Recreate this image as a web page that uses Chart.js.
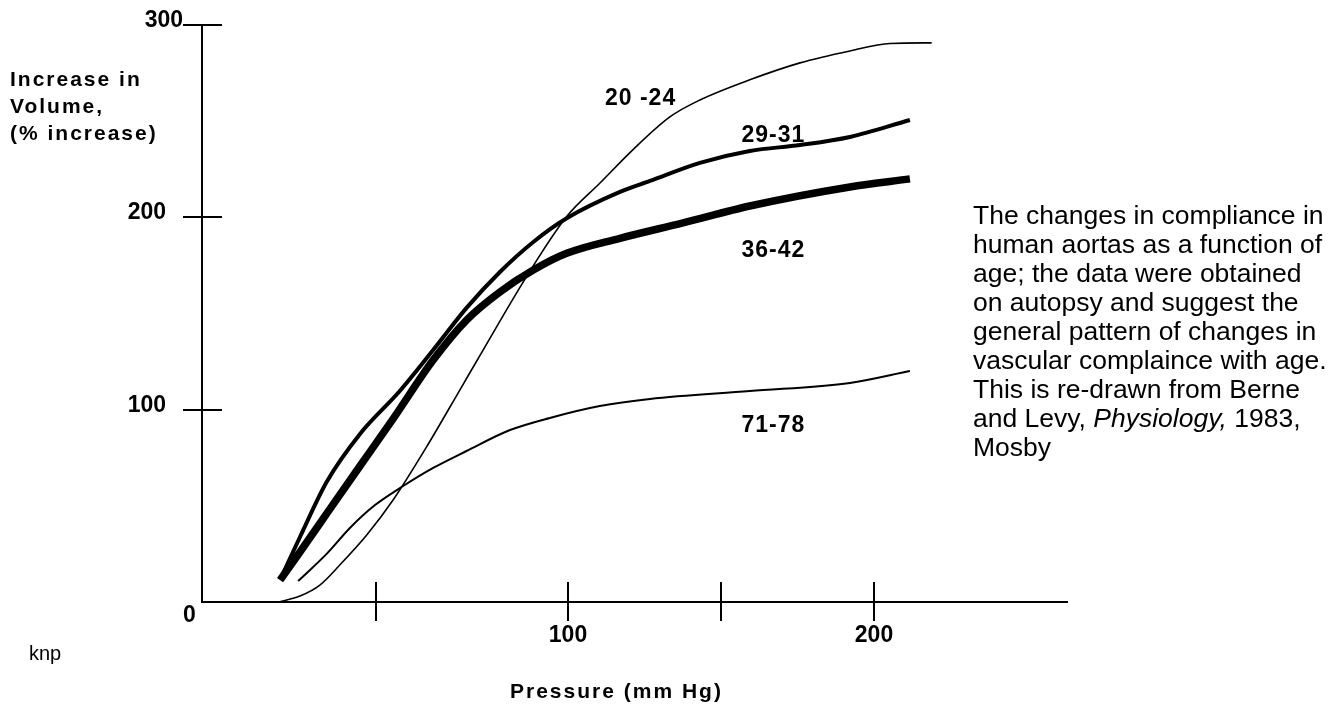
<!DOCTYPE html>
<html>
<head>
<meta charset="utf-8">
<script src="https://cdn.jsdelivr.net/npm/chart.js@4"></script>
<style>
html,body{margin:0;padding:0;background:#fff;}
#wrap{width:1338px;height:704px;position:relative;}
</style>
</head>
<body>
<div id="wrap"><canvas id="c" width="1338" height="704"></canvas></div>
<script>
// ---- data (pressure in mm Hg, volume increase in %) ----
const seriesNames = ['20 -24', '29-31', '36-42', '71-78'];

const pressure2024 = [5.7, 12.6, 19.1, 25.6, 34.4, 43.0, 54.0, 64.8, 72.4, 86.6, 99.7, 110.5, 121.3, 133.4, 143.2, 159.5, 175.9, 192.2, 205.3, 218.9];
const volume2024   = [0.0, 3.1, 8.8, 19.2, 34.8, 53.0, 80.8, 110.2, 131.0, 169.2, 200.4, 217.7, 235.1, 252.2, 261.0, 271.5, 280.3, 286.5, 290.4, 290.7];

const pressure2931 = [6.7, 12.6, 21.3, 32.2, 45.2, 56.1, 67.0, 77.9, 88.8, 99.7, 117.1, 126.9, 143.2, 159.5, 175.9, 192.2, 211.8];
const volume2931   = [13.5, 33.8, 62.4, 87.4, 109.7, 131.0, 152.9, 171.6, 187.2, 199.5, 213.2, 218.9, 228.3, 234.5, 237.6, 241.8, 250.6];

const pressure3642 = [6.1, 12.6, 22.4, 32.2, 43.0, 56.1, 67.0, 77.9, 88.8, 99.7, 117.1, 137.7, 159.5, 192.2, 211.8];
const volume3642   = [11.4, 26.0, 48.4, 70.7, 95.2, 125.8, 146.6, 161.2, 172.6, 181.3, 189.1, 197.1, 205.9, 215.8, 220.0];

const pressure7178 = [12.0, 21.3, 28.9, 37.1, 46.3, 56.1, 67.0, 81.2, 94.2, 110.5, 126.9, 159.5, 192.2, 211.8];
const volume7178   = [10.9, 25.0, 38.5, 50.4, 60.3, 69.7, 78.5, 89.4, 95.7, 101.9, 105.6, 109.7, 113.9, 120.1];

const xTickValues = [37.3, 100, 150, 200];
const xTickLabels = ['', '100', '', '200'];
const yTickValues = [0, 100, 200, 300];
const yTickLabels = ['0', '100', '200', '300'];

const xAxisTitle = 'Pressure (mm Hg)';
const yAxisTitle = ['Increase in', 'Volume,', '(% increase)'];
const creditText = 'knp';
const captionLines = [
  'The changes in compliance in',
  'human aortas as a function of',
  'age; the data were obtained',
  'on autopsy and suggest the',
  'general pattern of changes in',
  'vascular complaince with age.',
  'This is re-drawn from Berne',
  ['and Levy, ', 'Physiology,', ' 1983,'],
  'Mosby'
];

// ---- build ----
const FONT = '"Liberation Sans", Arial, Helvetica, sans-serif';
const zip = (xs, ys) => xs.map((v, i) => ({x: v, y: ys[i]}));
const seriesData = [
  zip(pressure2024, volume2024),
  zip(pressure2931, volume2931),
  zip(pressure3642, volume3642),
  zip(pressure7178, volume7178)
];
const seriesWidths = [1.6, 4, 7.5, 2];
// label anchor in data units (left edge, baseline)
const labelAnchors = [[112.2, 258.5], [156.8, 239.2], [156.8, 179.6], [156.8, 88.6]];

function setSpacing(ctx, px) { if ('letterSpacing' in ctx) ctx.letterSpacing = px + 'px'; }

const annotate = {
  id: 'annotate',
  afterDraw(chart) {
    const ctx = chart.ctx;
    const xs = chart.scales.x, ys = chart.scales.y;
    const ax = xs.left, ay = ys.bottom;
    ctx.save();
    ctx.fillStyle = '#000';
    ctx.strokeStyle = '#000';
    ctx.lineWidth = 2;
    ctx.lineCap = 'butt';

    // y ticks & labels
    ctx.font = 'bold 23px ' + FONT;
    ctx.textBaseline = 'alphabetic';
    setSpacing(ctx, 0);
    ys.ticks.forEach((t) => {
      const py = Math.round(ys.getPixelForValue(t.value));
      if (t.value === ys.min) {
        ctx.textAlign = 'center';
        ctx.fillText(t.label, ax - 12.5, ay + 20);
        return;
      }
      ctx.beginPath(); ctx.moveTo(ax - 19, py); ctx.lineTo(ax + 20, py); ctx.stroke();
      ctx.textAlign = 'right';
      const lx = (t.value === ys.max) ? ax - 19 : ax - 36;
      ctx.fillText(t.label, lx, py + 2);
    });

    // x ticks & labels
    xs.ticks.forEach((t) => {
      const px = Math.round(xs.getPixelForValue(t.value));
      ctx.beginPath(); ctx.moveTo(px, ay - 20); ctx.lineTo(px, ay + 19); ctx.stroke();
      if (t.label) {
        ctx.textAlign = 'center';
        ctx.fillText(t.label, px, ay + 40);
      }
    });

    // series labels
    ctx.textAlign = 'left';
    setSpacing(ctx, 1);
    seriesNames.forEach((name, i) => {
      const a = labelAnchors[i];
      ctx.fillText(name, xs.getPixelForValue(a[0]), ys.getPixelForValue(a[1]));
    });

    // axis titles
    ctx.font = 'bold 21px ' + FONT;
    setSpacing(ctx, 2);
    yAxisTitle.forEach((line, i) => ctx.fillText(line, 10, 86 + i * 27));
    ctx.fillText(xAxisTitle, 510, 698);

    // credit
    setSpacing(ctx, 0);
    ctx.font = '20px ' + FONT;
    ctx.fillText(creditText, 29, 660);

    // caption
    const capX = 973, capY = 224, pitch = 29;
    captionLines.forEach((line, i) => {
      const by = capY + i * pitch;
      if (Array.isArray(line)) {
        let cx = capX;
        line.forEach((seg, j) => {
          ctx.font = (j === 1 ? 'italic ' : '') + '26.5px ' + FONT;
          ctx.fillText(seg, cx, by);
          cx += ctx.measureText(seg).width;
        });
      } else {
        ctx.font = '26.5px ' + FONT;
        ctx.fillText(line, capX, by);
      }
    });
    ctx.restore();
  }
};

new Chart(document.getElementById('c'), {
  type: 'line',
  data: {
    datasets: seriesData.map((d, i) => ({
      label: seriesNames[i],
      data: d,
      borderColor: '#000',
      backgroundColor: '#000',
      borderWidth: seriesWidths[i],
      pointRadius: 0,
      pointHoverRadius: 0,
      fill: false,
      cubicInterpolationMode: 'monotone',
      borderCapStyle: 'butt',
      clip: false
    }))
  },
  options: {
    responsive: false,
    devicePixelRatio: 1,
    animation: false,
    events: [],
    layout: { padding: { left: 202, top: 25, right: 271, bottom: 102 } },
    plugins: { legend: { display: false }, tooltip: { enabled: false }, title: { display: false } },
    scales: {
      x: {
        type: 'linear',
        min: -19.4,
        max: 263.1,
        afterBuildTicks: (s) => { s.ticks = xTickValues.map(v => ({ value: v })); },
        afterFit: (s) => { s.height = 0; },
        ticks: { display: false, callback: (v, i) => xTickLabels[i] },
        grid: { display: false, drawTicks: false },
        border: { display: true, color: '#000', width: 2 }
      },
      y: {
        type: 'linear',
        min: 0,
        max: 300,
        afterBuildTicks: (s) => { s.ticks = yTickValues.map(v => ({ value: v })); },
        afterFit: (s) => { s.width = 0; },
        ticks: { display: false, callback: (v, i) => yTickLabels[i] },
        grid: { display: false, drawTicks: false },
        border: { display: true, color: '#000', width: 2 }
      }
    }
  },
  plugins: [annotate]
});
</script>
</body>
</html>
